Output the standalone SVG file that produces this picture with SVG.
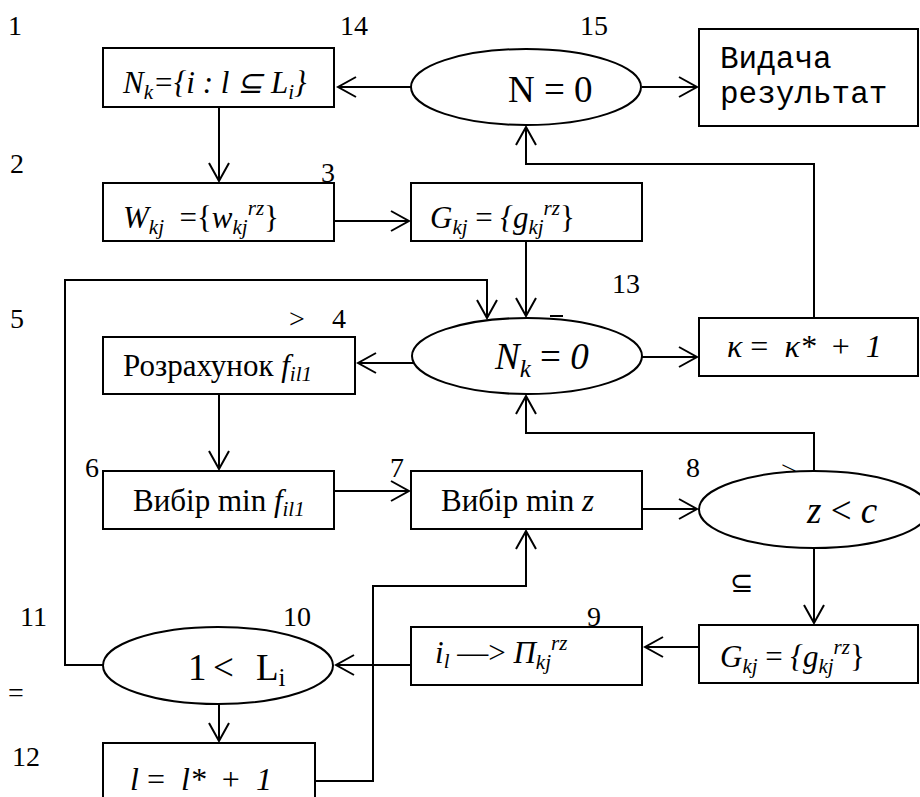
<svg xmlns="http://www.w3.org/2000/svg" width="920" height="797" viewBox="0 0 920 797">
<style>
.t{font-family:"Liberation Serif","Times New Roman",serif;font-size:31px;fill:#000}
.l{font-family:"Liberation Serif","Times New Roman",serif;font-size:28px;fill:#000}
.b{font-size:37px}
.c{font-size:32px}
.i{font-style:italic}
.u{font-style:normal}
.m{font-family:"Liberation Mono","Courier New",monospace;font-size:31px;fill:#000}
.s{font-size:21px}
.box{fill:#fff;stroke:#000;stroke-width:2}
.ln{fill:none;stroke:#000;stroke-width:2}
.ar{fill:none;stroke:#000;stroke-width:2;marker-end:url(#a)}
</style>
<defs>
<marker id="a" markerWidth="24" markerHeight="24" viewBox="-22 -12 24 24" refX="0" refY="0" orient="auto" markerUnits="userSpaceOnUse">
<path d="M-18,-10 L0,0 L-18,10" fill="none" stroke="#000" stroke-width="2"/>
</marker>
</defs>
<rect width="920" height="797" fill="#fff"/>
<g id="labels">
<text class="l" x="8" y="35">1</text>
<text class="l" x="340" y="35">14</text>
<text class="l" x="580" y="35">15</text>
<text class="l" x="10" y="173">2</text>
<text class="l" x="321" y="182">3</text>
<text class="l" x="10" y="328">5</text>
<text class="l" x="289" y="328">&gt;</text>
<text class="l" x="332" y="328">4</text>
<text class="l" x="612" y="293">13</text>
<text class="l" x="85" y="477">6</text>
<text class="l" x="390" y="477">7</text>
<text class="l" x="686" y="477">8</text>
<text class="l" x="781" y="480">&gt;</text>
<text class="l" x="730" y="592">⊆</text>
<text class="l" x="587" y="626">9</text>
<text class="l" x="20" y="626">11</text>
<text class="l" x="283" y="626">10</text>
<text class="l" x="8" y="702">=</text>
<text class="l" x="12" y="766">12</text>
</g>
<line x1="550" y1="316" x2="563" y2="316" class="ln" stroke-width="1.5"/>
<g id="connectors">
<line x1="411" y1="87" x2="338" y2="87" class="ar"/>
<line x1="642" y1="87" x2="697" y2="87" class="ar"/>
<line x1="219" y1="107" x2="219" y2="181" class="ar"/>
<line x1="334" y1="221" x2="409" y2="221" class="ar"/>
<line x1="526" y1="241" x2="526" y2="316" class="ar"/>
<polyline points="103,665 65,665 65,280 487,280 487,318" class="ar"/>
<line x1="414" y1="363" x2="358" y2="363" class="ar"/>
<line x1="642" y1="357" x2="697" y2="357" class="ar"/>
<polyline points="814,318 814,164 526,164 526,127" class="ar"/>
<line x1="219" y1="394" x2="219" y2="469" class="ar"/>
<line x1="334" y1="491" x2="409" y2="491" class="ar"/>
<line x1="642" y1="509" x2="697" y2="509" class="ar"/>
<polyline points="814,471 814,433 526,433 526,396" class="ar"/>
<line x1="814" y1="548" x2="814" y2="623" class="ar"/>
<line x1="699" y1="647" x2="645" y2="647" class="ar"/>
<line x1="411" y1="665" x2="336" y2="665" class="ar"/>
<line x1="219" y1="704" x2="219" y2="741" class="ar"/>
<polyline points="315,781 373,781 373,586 526,586 526,531" class="ar"/>
</g>
<g id="n1">
<rect x="103" y="48" width="231" height="59" class="box"/>
<text x="123" y="93" class="t i">N<tspan class="s" dy="6">k</tspan><tspan dy="-6">={i : l ⊆ L</tspan><tspan class="s" dy="6">i</tspan><tspan dy="-6">}</tspan></text>
</g>
<g id="n14">
<ellipse cx="526" cy="87" rx="115" ry="38" class="box"/>
<text x="508" y="102" class="t b">N = 0</text>
</g>
<g id="n15">
<rect x="699" y="29" width="219" height="97" class="box"/>
<text x="720" y="68" class="m">Видача</text>
<text x="720" y="103" class="m">результат</text>
</g>
<g id="n2">
<rect x="103" y="183" width="231" height="58" class="box"/>
<text x="123" y="228" class="t i" xml:space="preserve">W<tspan class="s" dy="6">kj</tspan><tspan dy="-6" class="u">  ={</tspan>w<tspan class="s" dy="6">kj</tspan><tspan class="s" dy="-19">rz</tspan><tspan class="u" dy="13">}</tspan></text>
</g>
<g id="n3">
<rect x="411" y="183" width="231" height="58" class="box"/>
<text x="430" y="228" class="t i">G<tspan class="s" dy="6">kj</tspan><tspan dy="-6"> <tspan class="u">=</tspan> {g</tspan><tspan class="s" dy="6">kj</tspan><tspan class="s" dy="-19">rz</tspan><tspan class="u" dy="13">}</tspan></text>
</g>
<g id="n4">
<ellipse cx="527" cy="356" rx="115" ry="38" class="box"/>
<text x="495" y="369" class="t b i">N<tspan font-size="25" dy="8">k</tspan><tspan dy="-8"> <tspan class="u">=</tspan> 0</tspan></text>
</g>
<g id="n13">
<rect x="699" y="318" width="219" height="58" class="box"/>
<text x="727" y="357" class="t c i" xml:space="preserve">κ <tspan class="u">=</tspan>  κ*  <tspan class="u">+</tspan>  1</text>
</g>
<g id="n5">
<rect x="103" y="337" width="252" height="57" class="box"/>
<text x="123" y="376" class="t">Розрахунок <tspan class="i">f</tspan><tspan class="s i" dy="5">il1</tspan></text>
</g>
<g id="n6">
<rect x="103" y="471" width="231" height="58" class="box"/>
<text x="133" y="511" class="t">Вибір min <tspan class="i">f</tspan><tspan class="s i" dy="5">il1</tspan></text>
</g>
<g id="n7">
<rect x="411" y="471" width="231" height="58" class="box"/>
<text x="441" y="511" class="t">Вибір min <tspan class="i">z</tspan></text>
</g>
<g id="n8">
<ellipse cx="814" cy="509.5" rx="115" ry="38.5" class="box"/>
<text x="807" y="523" class="t b i">z <tspan class="u">&lt;</tspan> c</text>
</g>
<g id="n9">
<rect x="411" y="627" width="231" height="58" class="box"/>
<text x="435" y="663" class="t i">i<tspan class="s" dy="5">l</tspan><tspan dy="-5" class="u"> —&gt; </tspan>П<tspan class="s" dy="6">kj</tspan><tspan class="s" dy="-19">rz</tspan></text>
</g>
<g id="n13b">
<rect x="699" y="625" width="219" height="58" class="box"/>
<text x="720" y="667" class="t i">G<tspan class="s" dy="6">kj</tspan><tspan dy="-6"> <tspan class="u">=</tspan> {g</tspan><tspan class="s" dy="6">kj</tspan><tspan class="s" dy="-19">rz</tspan><tspan class="u" dy="13">}</tspan></text>
</g>
<g id="n10">
<ellipse cx="218" cy="665.5" rx="115" ry="38.5" class="box"/>
<text x="188" y="680" class="t b">1<tspan x="213">&lt;</tspan><tspan x="256">L</tspan><tspan font-size="25" dy="6">i</tspan></text>
</g>
<g id="n12">
<rect x="103" y="743" width="212" height="70" class="box"/>
<text x="130" y="790" class="t c i" xml:space="preserve">l <tspan class="u">=</tspan>  l*  <tspan class="u">+</tspan>  1</text>
</g>
</svg>
